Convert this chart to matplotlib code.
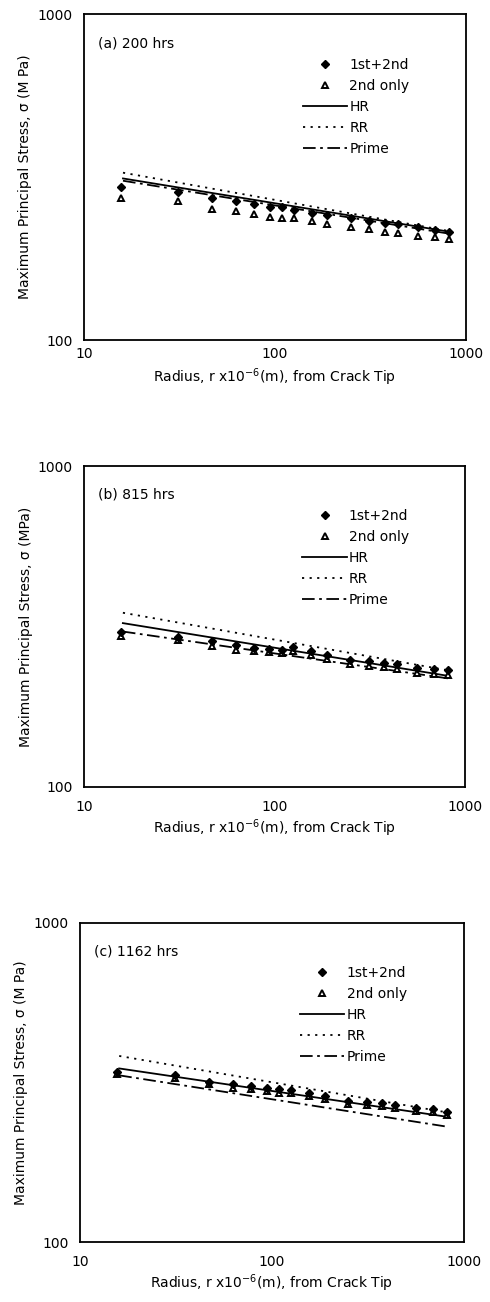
"""Maximum principal stress vs radius from crack tip, three hold times."""
import matplotlib
matplotlib.use("Agg")
import matplotlib.pyplot as plt
from matplotlib.lines import Line2D

plt.rcParams["font.family"] = ["DejaVu Sans"]

# radius, r x10^-6 m (same positions in every panel)
radius = [15.6, 31.2, 46.9, 62.5, 78.1, 93.8, 109, 125, 156, 188,
          250, 312, 375, 438, 562, 688, 812]
line_r = [16, 812]

titles = ["(a) 200 hrs", "(b) 815 hrs", "(c) 1162 hrs"]
ylabels = ["Maximum Principal Stress, σ (M Pa)",
           "Maximum Principal Stress, σ (MPa)",
           "Maximum Principal Stress, σ (M Pa)"]

both_a = [295, 285, 272, 266, 262, 256, 255, 250, 245, 242, 236, 232, 229, 227, 222, 218, 215]
second_a = [272, 266, 253, 248, 244, 239, 237, 236, 231, 227, 222, 219, 215, 213, 208, 207, 204]
hr_a = [313, 215]
rr_a = [326, 216]
prime_a = [308, 212]

both_b = [303, 294, 284, 277, 272, 269, 267, 273, 265, 258, 249, 247, 244, 241, 235, 233, 231]
second_b = [296, 287, 275, 268, 265, 263, 261, 265, 257, 250, 241, 239, 236, 233, 227, 225, 223]
hr_b = [324, 222]
rr_b = [349, 231]
prime_b = [305, 218]

both_c = [342, 334, 318, 312, 308, 305, 301, 300, 293, 287, 277, 274, 272, 269, 264, 261, 256]
second_c = [336, 326, 312, 305, 301, 298, 294, 293, 287, 281, 271, 268, 266, 263, 258, 255, 250]
hr_c = [350, 247]
rr_c = [383, 255]
prime_c = [333, 230]

panels = [
    (both_a, second_a, hr_a, rr_a, prime_a),
    (both_b, second_b, hr_b, rr_b, prime_b),
    (both_c, second_c, hr_c, rr_c, prime_c),
]

# axes boxes in pixels: left, top, right, bottom
W, H = 490, 1302
boxes = [(84, 14, 466, 340), (84, 466, 465, 787), (80, 923, 464, 1242)]
xtick_pad = [5, 9.5, 9.5]
xlabel_y = [-0.08, -0.094, -0.094]

FS = 10
DOTTED = (0, (1.2, 3))
PRIME_DASH = (0, (7, 2.5, 1.5, 2.5))
TRI = dict(ls="none", marker="^", ms=4.6, mfc="white", mec="black", mew=1.4)
DIA = dict(ls="none", marker="D", ms=4.3, color="black")

fig = plt.figure(figsize=(W / 100, H / 100), dpi=100)

for i, (both, second, hr, rr, prime) in enumerate(panels):
    l, t, r, b = boxes[i]
    ax = fig.add_axes([l / W, 1 - b / H, (r - l) / W, (b - t) / H])
    ax.set_xscale("log")
    ax.set_yscale("log")
    ax.set_xlim(10, 1000)
    ax.set_ylim(100, 1000)

    ax.plot(line_r, hr, color="black", lw=1.3, ls="-")
    ax.plot(line_r, rr, color="black", lw=1.3, ls=DOTTED)
    ax.plot(line_r, prime, color="black", lw=1.3, ls=PRIME_DASH)
    ax.plot(radius, second, **TRI)
    ax.plot(radius, both, **DIA)

    ax.set_xticks([10, 100, 1000])
    ax.set_xticklabels(["10", "100", "1000"])
    ax.set_yticks([100, 1000])
    ax.set_yticklabels(["100", "1000"])
    ax.minorticks_off()
    ax.tick_params(axis="y", length=0, pad=8, labelsize=FS)
    ax.tick_params(axis="x", length=0, pad=xtick_pad[i], labelsize=FS)
    for s in ax.spines.values():
        s.set_linewidth(1.3)

    ax.set_ylabel(ylabels[i], fontsize=FS)
    ax.yaxis.set_label_coords(-0.135, 0.5)
    ax.set_xlabel(r"Radius, r x10$^{-6}$(m), from Crack Tip", fontsize=FS)
    ax.xaxis.set_label_coords(0.5, xlabel_y[i])

    ax.text(0.036, 0.91, titles[i], transform=ax.transAxes, fontsize=FS,
            va="center", ha="left")

    handles = [
        Line2D([], [], **DIA),
        Line2D([], [], **TRI),
        Line2D([], [], color="black", lw=1.3, ls="-"),
        Line2D([], [], color="black", lw=1.3, ls=DOTTED),
        Line2D([], [], color="black", lw=1.3, ls=PRIME_DASH),
    ]
    ax.legend(handles, ["1st+2nd", "2nd only", "HR", "RR", "Prime"],
              loc="upper left", bbox_to_anchor=(0.573, 0.865), frameon=False,
              fontsize=FS, handlelength=3.2, handletextpad=0.15,
              labelspacing=0.5, borderpad=0, borderaxespad=0)

fig.savefig("out.png", dpi=100)
